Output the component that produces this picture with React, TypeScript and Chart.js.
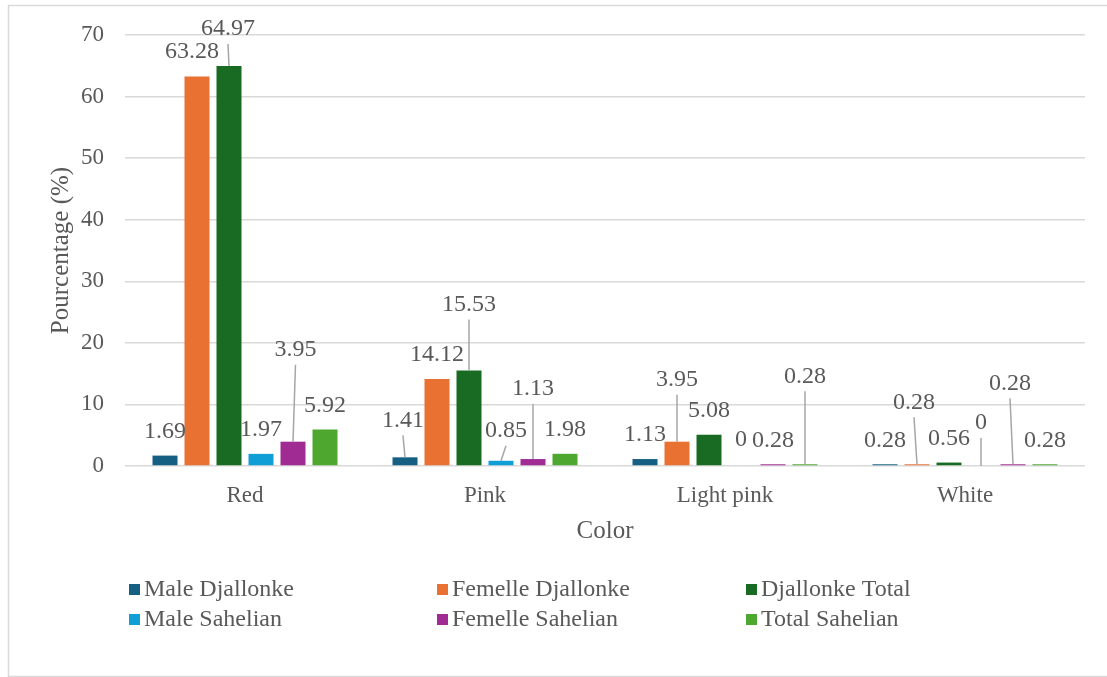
import { useEffect, useRef } from "react";
import { Chart, registerables } from "chart.js";

Chart.register(...registerables);

// Categories and series values (%)
const categories = ["Red", "Pink", "Light pink", "White"];
const seriesNames = [
  "Male Djallonke",
  "Femelle Djallonke",
  "Djallonke Total",
  "Male Sahelian",
  "Femelle Sahelian",
  "Total Sahelian",
];
const maleDjallonke = [1.69, 1.41, 1.13, 0.28];
const femelleDjallonke = [63.28, 14.12, 3.95, 0.28];
const djallonkeTotal = [64.97, 15.53, 5.08, 0.56];
const maleSahelian = [1.97, 0.85, 0, 0];
const femelleSahelian = [3.95, 1.13, 0.28, 0.28];
const totalSahelian = [5.92, 1.98, 0.28, 0.28];

const yMin = 0;
const yMax = 70;
const yStep = 10;

const seriesColors = ["#156082", "#E97132", "#196B24", "#0F9ED5", "#A02B93", "#4EA72E"];

const TEXT = "#595959";
const GRID = "#d9d9d9";
const LEADER = "#a6a6a6";
const FONT = '"Liberation Serif", "Times New Roman", serif';

// Hand-placed data labels: key "dataset-index" -> [dx, dy, leader line]
// (offsets of the label centre from the bar's top centre, in px)
const DEFAULT_DY = -24;
const labelNudges: Record<string, [number, number, boolean]> = {
  "1-0": [-5, -25, false],
  "2-0": [-1, -37, true],
  "4-0": [2.5, -92, true],
  "0-1": [-2, -37, true],
  "2-1": [0, -66, true],
  "3-1": [5, -30, true],
  "4-1": [0, -70, true],
  "1-2": [0, -62, true],
  "3-2": [0, -26, false],
  "5-2": [0, -88, true],
  "1-3": [-3, -62, true],
  "3-3": [0, -43, true],
  "4-3": [-3, -81, true],
};

const framePlugin = {
  id: "frame",
  beforeDraw(chart: any) {
    const { ctx, width, height } = chart;
    ctx.save();
    ctx.fillStyle = "#ffffff";
    ctx.fillRect(0, 0, width, height);
    ctx.strokeStyle = GRID;
    ctx.lineWidth = 1.5;
    ctx.strokeRect(8.5, 5.5, width + 20, height - 6);
    ctx.restore();
  },
};

const valueLabelsPlugin = {
  id: "valueLabels",
  afterDatasetsDraw(chart: any) {
    const { ctx } = chart;
    ctx.save();
    ctx.font = `24px ${FONT}`;
    ctx.textAlign = "center";
    ctx.textBaseline = "middle";
    chart.data.datasets.forEach((ds: any, di: number) => {
      const meta = chart.getDatasetMeta(di);
      meta.data.forEach((bar: any, i: number) => {
        const v = ds.data[i];
        const { x, y } = bar.getProps(["x", "y"], true);
        const n = labelNudges[`${di}-${i}`];
        const dx = n ? n[0] : 0;
        const dy = n ? n[1] : DEFAULT_DY;
        const lx = x + dx;
        const ly = y + dy;
        if (n && n[2]) {
          ctx.strokeStyle = LEADER;
          ctx.lineWidth = 1.5;
          ctx.beginPath();
          ctx.moveTo(lx, ly + 15);
          ctx.lineTo(x, y);
          ctx.stroke();
        }
        ctx.fillStyle = TEXT;
        ctx.fillText(String(v), lx, ly);
      });
    });
    ctx.restore();
  },
};

const legendPlugin = {
  id: "gridLegend",
  afterDraw(chart: any) {
    const { ctx } = chart;
    const cols = [129, 437, 746];
    const rows = [590, 620];
    ctx.save();
    ctx.font = `24px ${FONT}`;
    ctx.textAlign = "left";
    ctx.textBaseline = "middle";
    chart.data.datasets.forEach((ds: any, di: number) => {
      const x = cols[di % 3];
      const y = rows[Math.floor(di / 3)];
      ctx.fillStyle = ds.backgroundColor;
      ctx.fillRect(x, y - 6, 11, 11);
      ctx.fillStyle = TEXT;
      ctx.fillText(ds.label, x + 15, y);
    });
    ctx.restore();
  },
};

export default function App() {
  const canvasRef = useRef<HTMLCanvasElement>(null);

  useEffect(() => {
    const canvas = canvasRef.current;
    if (!canvas) return;
    Chart.defaults.font.family = FONT;
    const values = [
      maleDjallonke,
      femelleDjallonke,
      djallonkeTotal,
      maleSahelian,
      femelleSahelian,
      totalSahelian,
    ];
    const chart = new Chart(canvas, {
      type: "bar",
      data: {
        labels: categories,
        datasets: values.map((data, i) => ({
          label: seriesNames[i],
          data,
          backgroundColor: seriesColors[i],
          borderWidth: 0,
          categoryPercentage: 0.8,
          barPercentage: 0.78125,
        })),
      },
      options: {
        responsive: false,
        animation: false,
        devicePixelRatio: 1,
        layout: { padding: { left: 46, right: 22, top: 35, bottom: 131 } },
        plugins: {
          legend: { display: false },
          tooltip: { enabled: false },
        },
        scales: {
          x: {
            grid: { display: false },
            border: { display: false },
            ticks: { color: TEXT, font: { size: 23 }, padding: 8 },
            title: {
              display: true,
              text: "Color",
              color: TEXT,
              font: { size: 25 },
              padding: 0,
            },
            afterFit: (s: any) => {
              s.height = 80;
            },
          },
          y: {
            min: yMin,
            max: yMax,
            ticks: { stepSize: yStep, color: TEXT, font: { size: 23 }, padding: 21 },
            grid: { color: GRID, lineWidth: 1.5, drawTicks: false },
            border: { display: false },
            title: {
              display: true,
              text: "Pourcentage (%)",
              color: TEXT,
              font: { size: 25 },
              padding: 0,
            },
            afterFit: (s: any) => {
              s.width = 79;
            },
          },
        },
      },
      plugins: [framePlugin, valueLabelsPlugin, legendPlugin],
    });
    return () => chart.destroy();
  }, []);

  return (
    <div
      style={{
        position: "fixed",
        left: 0,
        top: 0,
        width: 1107,
        height: 677,
        background: "#ffffff",
      }}
    >
      <canvas ref={canvasRef} width={1107} height={677} style={{ display: "block" }} />
    </div>
  );
}
